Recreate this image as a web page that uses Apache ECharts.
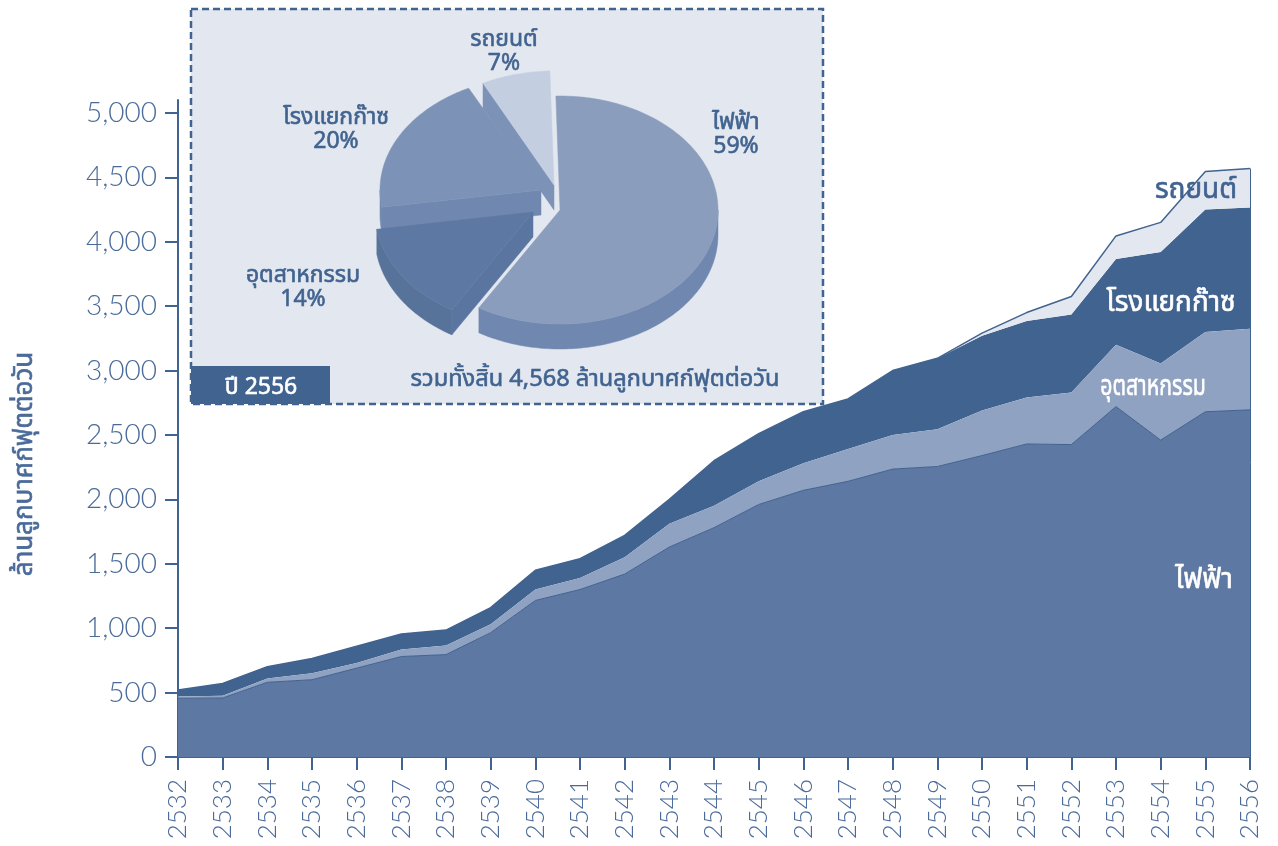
<!DOCTYPE html>
<html><head><meta charset="utf-8">
<style>html,body{margin:0;padding:0;background:#fff}#c{width:1278px;height:846px}</style>
<script src="https://cdn.jsdelivr.net/npm/echarts@6/dist/echarts.min.js"></script>
</head><body><div id="c"></div>
<script>
const years = ['2532','2533','2534','2535','2536','2537','2538','2539','2540','2541','2542','2543','2544','2545','2546','2547','2548','2549','2550','2551','2552','2553','2554','2555','2556'];
const yTicks = [0,500,1000,1500,2000,2500,3000,3500,4000,4500,5000];
const power    = [456,458,580,600,690,780,795,965,1215,1300,1420,1630,1780,1960,2070,2140,2235,2255,2340,2430,2425,2720,2460,2680,2695];
const industry = [14,17,30,50,40,55,70,65,85,90,130,180,170,180,210,250,265,290,350,360,405,480,595,620,630];
const gasPlant = [50,95,90,115,130,120,120,130,150,150,170,190,350,370,400,390,500,550,580,595,605,665,865,950,940];
const vehicle  = [0,0,0,0,0,0,0,0,0,0,0,0,0,0,0,0,0,0,20,65,140,180,230,295,303];
const pieNames  = ['ไฟฟ้า','อุตสาหกรรม','โรงแยกก๊าซ','รถยนต์'];
const pieShares = [59,14,20,7];

const THAI = '"Noto Sans Thai","Noto Sans","Open Sans","DejaVu Sans",sans-serif';
const BLUE = '#41638f', TXT = '#4a6b9a';

// pie geometry (tilted, exploded)
const PIE = {ry:114, depth:25, start:-1.5*Math.PI/180};
const rxs = [158,158,161,158];
const apex = [[560,210],[533,212],[541,190],[554,185]];
const topCol = ['#8b9dbd','#5d78a2','#7d92b7','#c3cee0'];
const bandCol = ['#7087b0','#587399','#7088af','#b4c0d6'];
const wallCol = ['#7087b0','#5a76a0','#7088af','#7d92b7'];
const order = [4,3,1,2];
const total = pieShares.reduce((a,b)=>a+b,0);
function arc(c,rx,a0,a1,dy){
  const pts=[]; const n=Math.max(2,Math.ceil(Math.abs(a1-a0)/0.02));
  for(let i=0;i<=n;i++){const a=a0+(a1-a0)*i/n; pts.push([c[0]+rx*Math.sin(a), c[1]-PIE.ry*Math.cos(a)+(dy||0)]);}
  return pts;
}
function renderSlice(params,api){
  const i=params.dataIndex, v=api.value(0), rx=rxs[i];
  let s=0; for(let k=0;k<i;k++) s+=pieShares[k];
  const a0=PIE.start+s/total*2*Math.PI, a1=PIE.start+(s+v)/total*2*Math.PI, c=apex[i], z=order[i]*10, kids=[];
  const poly=(points,fill,zz)=>kids.push({type:'polygon',shape:{points},z2:zz,style:{fill,stroke:fill,lineWidth:.5}});
  const b0=Math.max(a0,Math.PI/2), b1=Math.min(a1,Math.PI*1.5);
  if(b1>b0){poly(arc(c,rx,b0,b1,0).concat(arc(c,rx,b0,b1,PIE.depth).reverse()),bandCol[i],z);}
  if(i>0){const e=arc(c,rx,a0,a0,0)[0];
  poly([c,e,[e[0],e[1]+PIE.depth],[c[0],c[1]+PIE.depth]],wallCol[i],z+1);}
  poly([c].concat(arc(c,rx,a0,a1,0)),topCol[i],z+2);
  return {type:'group',children:kids};
}
const txt=(x,y,text,fill,size,extra)=>Object.assign({type:'text',x,y,z:20,style:{text,fill,stroke:fill,lineWidth:.6,font:'normal '+size+'px '+THAI,align:'center',verticalAlign:'middle',lineHeight:24}},extra||{});

const chart=echarts.init(document.getElementById('c'),null,{renderer:'canvas'});
chart.setOption({
  animation:false,
  backgroundColor:'#fff',
  grid:{left:178,right:28,top:100,bottom:89,containLabel:false},
  xAxis:{type:'category',data:years,boundaryGap:false,
    axisLine:{lineStyle:{color:BLUE,width:2}},
    axisTick:{alignWithLabel:true,length:13,lineStyle:{color:BLUE,width:2}},
    axisLabel:{rotate:90,interval:0,margin:22,fontSize:26,fontWeight:300,color:TXT,fontFamily:'Lato, "Open Sans", sans-serif'}},
  yAxis:{type:'value',min:0,max:5100,
    axisLine:{show:true,lineStyle:{color:BLUE,width:2}},
    axisTick:{show:true,length:13,customValues:yTicks,lineStyle:{color:BLUE,width:2}},
    axisLabel:{customValues:yTicks,margin:21,fontSize:28,fontWeight:300,padding:[3,0,0,0],color:TXT,fontFamily:'Lato, "Open Sans", sans-serif',formatter:v=>Number(v).toLocaleString('en-US')},
    splitLine:{show:false}},
  series:[
    {name:'ไฟฟ้า',type:'line',stack:'t',data:power,showSymbol:false,z:4,lineStyle:{color:BLUE,width:1},areaStyle:{color:'#5d78a3',opacity:1}},
    {name:'อุตสาหกรรม',type:'line',stack:'t',data:industry,showSymbol:false,z:3,lineStyle:{width:0},areaStyle:{color:'#8fa2c2',opacity:1}},
    {name:'โรงแยกก๊าซ',type:'line',stack:'t',data:gasPlant,showSymbol:false,z:2,lineStyle:{width:0},areaStyle:{color:BLUE,opacity:1}},
    {name:'รถยนต์',type:'line',stack:'t',data:vehicle,showSymbol:false,z:2,lineStyle:{color:BLUE,width:1.5},areaStyle:{color:'#e3e7f0',opacity:1},
      markLine:{silent:true,symbol:'none',label:{show:false},lineStyle:{color:BLUE,width:1,type:'solid'},
        data:[[{xAxis:'2556',yAxis:0},{xAxis:'2556',yAxis:4568}]]}},
    {type:'custom',coordinateSystem:'none',z:15,silent:true,data:pieShares,renderItem:renderSlice}
  ],
  graphic:{elements:[
    {type:'rect',z:10,shape:{x:191,y:9,width:632,height:395},style:{fill:'#e3e7f0',stroke:BLUE,lineWidth:2.5,lineDash:[7,4]}},
    {type:'rect',z:11,shape:{x:191,y:366,width:139,height:38},style:{fill:BLUE}},
    txt(261,389,'ปี 2556','#fff',23),
    txt(595,381,'รวมทั้งสิ้น 4,568 ล้านลูกบาศก์ฟุตต่อวัน',BLUE,23.6),
    txt(736,136,pieNames[0]+'\n'+pieShares[0]+'%',BLUE,23),
    txt(303,289,pieNames[1]+'\n'+pieShares[1]+'%',BLUE,23),
    txt(336,131,pieNames[2]+'\n'+pieShares[2]+'%',BLUE,23),
    txt(504,53,pieNames[3]+'\n'+pieShares[3]+'%',BLUE,23),
    txt(1204,582,pieNames[0],'#fff',28),
    txt(1153,389,pieNames[1],'#fff',28,{scaleX:.76}),
    txt(1171,305,pieNames[2],'#fff',28),
    txt(1196,192,pieNames[3],BLUE,28),
    txt(27,464,'ล้านลูกบาศก์ฟุตต่อวัน',TXT,26,{rotation:Math.PI/2})
  ]}
});
</script></body></html>
